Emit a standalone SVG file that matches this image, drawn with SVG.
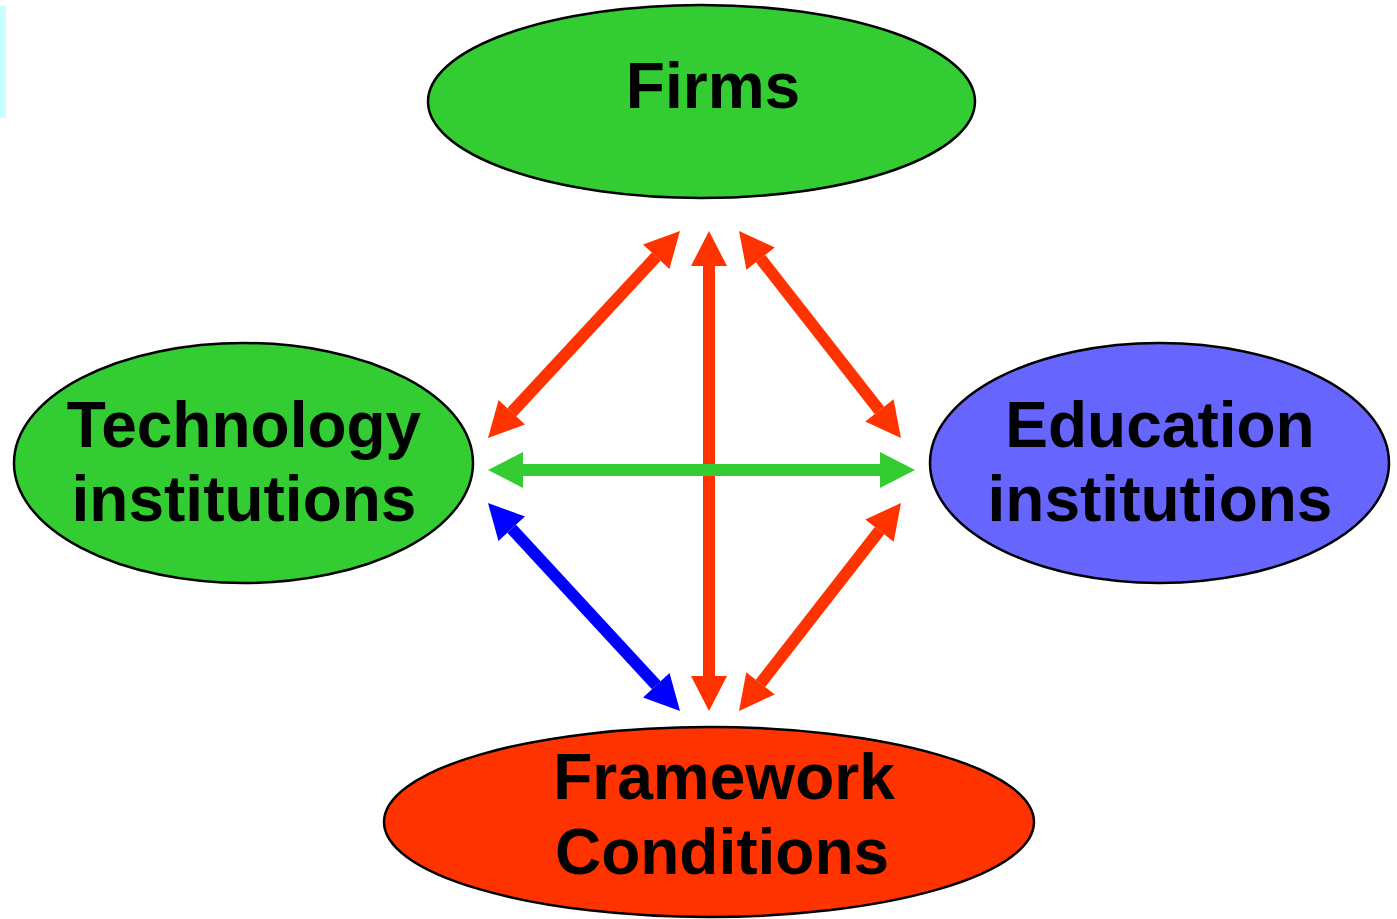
<svg xmlns="http://www.w3.org/2000/svg" width="1397" height="919" viewBox="0 0 1397 919">
<style>
.node ellipse{stroke:#000;stroke-width:2.5}
.lbl{font-family:"Liberation Sans",Arial,sans-serif;font-weight:bold;font-size:64px;fill:#000;text-anchor:middle}
.red{stroke:#FF3300;stroke-width:12;fill:none}
.green{stroke:#33CC33;stroke-width:12;fill:none}
.blue{stroke:#0000FF;stroke-width:12;fill:none}
</style>
<defs>
<marker id="hr" markerUnits="userSpaceOnUse" viewBox="0 -18 35 36" refX="0" refY="0" markerWidth="35" markerHeight="36" orient="auto-start-reverse" overflow="visible"><path d="M0,-18 L35,0 L0,18 z" fill="#FF3300"/></marker>
<marker id="hg" markerUnits="userSpaceOnUse" viewBox="0 -18 35 36" refX="0" refY="0" markerWidth="35" markerHeight="36" orient="auto-start-reverse" overflow="visible"><path d="M0,-18 L35,0 L0,18 z" fill="#33CC33"/></marker>
<marker id="hb" markerUnits="userSpaceOnUse" viewBox="0 -18 35 36" refX="0" refY="0" markerWidth="35" markerHeight="36" orient="auto-start-reverse" overflow="visible"><path d="M0,-18 L35,0 L0,18 z" fill="#0000FF"/></marker>
</defs>
<rect width="1397" height="919" fill="#fff"/>
<rect x="0" y="6" width="6" height="112" fill="#C8FFFF"/>
<g id="firms" class="node"><ellipse cx="701.5" cy="101.5" rx="273.5" ry="96.5" fill="#33CC33"/><text class="lbl" x="713" y="108" font-size="62">Firms</text></g>
<g id="technology" class="node"><ellipse cx="243.5" cy="463" rx="229.5" ry="120" fill="#33CC33"/><text class="lbl" x="244" y="447">Technology</text><text class="lbl" x="244" y="521">institutions</text></g>
<g id="education" class="node"><ellipse cx="1159.5" cy="463" rx="229.5" ry="120" fill="#6666FF"/><text class="lbl" x="1160" y="447">Education</text><text class="lbl" x="1160" y="521">institutions</text></g>
<g id="framework" class="node"><ellipse cx="709" cy="822" rx="325" ry="95" fill="#FF3300"/><text class="lbl" x="724" y="799">Framework</text><text class="lbl" x="722" y="874">Conditions</text></g>
<g id="connectors">
<line class="red" x1="709" y1="266" x2="709" y2="676" marker-start="url(#hr)" marker-end="url(#hr)"/>
<line class="green" x1="523" y1="470" x2="880" y2="470" marker-start="url(#hg)" marker-end="url(#hg)"/>
<line class="red" x1="511.8" y1="412.3" x2="656.2" y2="256.7" marker-start="url(#hr)" marker-end="url(#hr)"/>
<line class="red" x1="760.6" y1="258.6" x2="879.4" y2="410.4" marker-start="url(#hr)" marker-end="url(#hr)"/>
<line class="blue" x1="511.7" y1="528.7" x2="656.3" y2="685.3" marker-start="url(#hb)" marker-end="url(#hb)"/>
<line class="red" x1="879.5" y1="530.6" x2="760.5" y2="683.4" marker-start="url(#hr)" marker-end="url(#hr)"/>
</g>
</svg>
